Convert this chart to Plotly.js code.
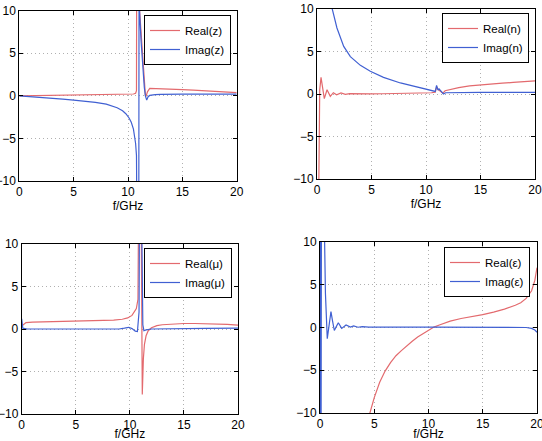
<!DOCTYPE html>
<html>
<head>
<meta charset="utf-8">
<script src="https://cdn.plot.ly/plotly-3.0.1.min.js"></script>
<style>html,body{margin:0;padding:0;background:#fff;}#chart{width:542px;height:441px;}</style>
</head>
<body>
<div id="chart"></div>
<script>
// ---- Data ----
// Panel 1: impedance z
const zReF = [0, 3, 6, 9, 10, 10.5, 10.7, 10.78, 10.82, 11.0, 11.04, 11.2, 11.35, 11.5, 11.6, 11.66, 11.8, 12.0, 13, 14, 15, 16, 17, 18, 19, 20];
const zRe  = [0, 0.05, 0.1, 0.15, 0.18, 0.22, 0.3, 0.6, 30, 30, 10.5, 7.5, 4.5, 1.5, 0.1, -0.05, 0.5, 0.88, 0.86, 0.8, 0.74, 0.67, 0.6, 0.52, 0.45, 0.37];
const zImF = [0, 1, 2, 3, 4, 5, 6, 7, 8, 8.5, 9, 9.5, 9.8, 10.1, 10.3, 10.5, 10.6, 10.7, 10.78, 10.85, 10.9, 10.98, 11.0, 11.03, 11.06, 11.2, 11.35, 11.5, 11.6, 11.72, 11.85, 12.0, 12.5, 13, 15, 17, 20];
const zIm  = [0, -0.08, -0.18, -0.28, -0.38, -0.5, -0.62, -0.76, -0.98, -1.15, -1.4, -1.75, -2.1, -2.6, -3.1, -3.9, -4.6, -5.6, -7, -9.5, -30, -30, 30, 30, 10, 6.5, 3.5, 1.0, 0, -0.5, -0.1, 0.05, 0.15, 0.18, 0.2, 0.2, 0.2];

// Panel 2: refractive index n
const nReF = [0.02, 0.15, 0.25, 0.37, 0.5, 0.67, 0.92, 1.22, 1.5, 1.8, 2.2, 2.6, 3, 4, 5, 6, 7, 8, 9, 10, 10.5, 10.85, 10.98, 11.15, 11.55, 11.75, 12.5, 13, 14, 15, 16, 17, 18, 19, 20];
const nRe  = [-30, -8, 0.5, 1.96, 0.9, -0.55, 0.5, -0.27, 0.15, -0.1, 0.12, -0.05, 0.05, 0.0, 0.02, 0.03, 0.05, 0.07, 0.1, 0.13, 0.15, 0.22, 0.85, 0.5, 0.1, 0.38, 0.6, 0.75, 0.95, 1.08, 1.18, 1.27, 1.36, 1.45, 1.55];
const nImF = [1.2, 1.38, 1.83, 2.45, 3.06, 3.98, 4.89, 6.1, 7.65, 9.17, 10.1, 10.85, 10.97, 11.1, 11.2, 11.6, 11.8, 13, 15, 17, 20];
const nIm  = [12, 10.1, 7.77, 5.6, 4.4, 3.37, 2.67, 1.96, 1.3, 0.82, 0.5, 0.3, 1.0, 0.45, 0.6, 0.0, 0.15, 0.2, 0.2, 0.2, 0.2];

// Panel 3: permeability mu
const muReF = [0, 0.4, 1, 3, 5, 7, 8.5, 9.3, 9.8, 10.2, 10.6, 10.75, 10.9, 10.97, 11.15, 11.25, 11.35, 11.5, 11.7, 12, 12.5, 13, 14, 15, 16, 17, 18, 19, 20];
const muRe  = [0.35, 0.75, 0.8, 0.85, 0.9, 0.95, 1.05, 1.15, 1.3, 1.6, 2.4, 3.5, 30, 30, -7.7, -3.5, -1.8, -0.8, -0.2, 0.15, 0.4, 0.5, 0.6, 0.65, 0.65, 0.63, 0.6, 0.55, 0.45];
const muImF = [0, 0.1, 0.5, 3, 6, 9, 9.5, 9.9, 10.2, 10.5, 10.7, 10.85, 10.95, 11.08, 11.2, 11.3, 11.5, 12, 14, 17, 20];
const muIm  = [1.2, 0.1, 0.0, -0.02, -0.02, 0.0, 0.1, 0.2, 0.05, -0.25, -0.3, 2, 30, 30, 0.5, -0.2, -0.1, 0.0, 0.05, 0.08, 0.1];

// Panel 4: permittivity epsilon
const epReF = [4.0, 4.3, 4.6, 5, 5.5, 6, 6.5, 7, 7.5, 8, 8.5, 9, 9.5, 10, 10.5, 11, 12, 13, 14, 15, 16, 17, 18, 18.5, 19, 19.5, 19.8, 20];
const epRe  = [-15, -12, -10, -8.2, -6.4, -5.1, -4.1, -3.3, -2.7, -2.1, -1.6, -1.1, -0.7, -0.3, 0.05, 0.3, 0.75, 1.05, 1.25, 1.5, 1.8, 2.15, 2.6, 2.9, 3.4, 4.3, 5.5, 7.0];
const epImF = [0, 0.08, 0.15, 0.4, 0.5, 0.67, 0.85, 1.01, 1.15, 1.32, 1.5, 1.69, 2.0, 2.4, 2.8, 3.1, 3.5, 3.9, 4.5, 5, 6, 10, 15, 18, 19, 19.5, 19.8, 20];
const epIm  = [30, -30, 30, 12, 4, -1.3, 0.3, 1.85, 0.8, -0.35, 0.1, 0.55, -0.1, 0.3, 0.05, 0.18, 0.03, 0.1, 0.04, 0.03, 0.04, 0.04, 0.04, 0.03, 0.0, -0.1, -0.3, -0.55];

const legendNames = [['Real(z)', 'Imag(z)'], ['Real(n)', 'Imag(n)'], ['Real(\u03bc)', 'Imag(\u03bc)'], ['Real(\u03b5)', 'Imag(\u03b5)']];

// ---- Styling ----
const RED = '#e36a6e', BLUE = '#4060d2';
const panels = [
  [zReF, zRe, zImF, zIm],
  [nReF, nRe, nImF, nIm],
  [muReF, muRe, muImF, muIm],
  [epReF, epRe, epImF, epIm]
];
const traces = [];
panels.forEach((p, i) => {
  const ax = i === 0 ? '' : String(i + 1);
  const lg = i === 0 ? 'legend' : 'legend' + (i + 1);
  traces.push({x: p[0], y: p[1], type: 'scatter', mode: 'lines', name: legendNames[i][0],
    line: {color: RED, width: 1.2}, xaxis: 'x' + ax, yaxis: 'y' + ax, legend: lg});
  traces.push({x: p[2], y: p[3], type: 'scatter', mode: 'lines', name: legendNames[i][1],
    line: {color: BLUE, width: 1.2}, xaxis: 'x' + ax, yaxis: 'y' + ax, legend: lg});
});

const W = 542, H = 441;
// plot boxes in pixels: [left, right, top, bottom]
const boxes = [[19.3, 236.7, 10.7, 181], [317, 535, 9, 179], [21.7, 238, 244, 414], [320, 537, 242, 413]];
const legPos = [[231, 15], [529, 13], [232, 248], [530, 247]];

const layout = {
  width: W, height: H,
  margin: {l: 0, r: 0, t: 0, b: 0, autoexpand: false},
  paper_bgcolor: '#fff', plot_bgcolor: '#fff',
  font: {family: 'Liberation Sans, Arial, sans-serif', size: 12, color: '#000'},
  showlegend: true
};
boxes.forEach((b, i) => {
  const s = i === 0 ? '' : String(i + 1);
  const common = {showline: true, linecolor: '#000', linewidth: 1, mirror: 'ticks', ticks: 'inside', ticklen: 4,
    tickcolor: '#000', showgrid: true, gridcolor: '#b0b0b0', griddash: '1px,3px', gridwidth: 1, zeroline: false,
    tickfont: {size: 12}, fixedrange: true, automargin: false, ticklabeloverflow: 'allow'};
  layout['xaxis' + s] = Object.assign({}, common, {
    domain: [b[0] / W, b[1] / W], anchor: 'y' + s, range: [0, 20], tickvals: [0, 5, 10, 15, 20],
    title: {text: 'f/GHz', font: {size: 12}, standoff: 2}
  });
  layout['yaxis' + s] = Object.assign({}, common, {
    domain: [1 - b[3] / H, 1 - b[2] / H], anchor: 'x' + s, range: [-10, 10], tickvals: [-10, -5, 0, 5, 10]
  });
  const lk = i === 0 ? 'legend' : 'legend' + (i + 1);
  layout[lk] = {
    xref: 'paper', yref: 'paper', x: legPos[i][0] / W, y: 1 - legPos[i][1] / H,
    xanchor: 'right', yanchor: 'top', bgcolor: '#fff', bordercolor: '#000', borderwidth: 1,
    font: {size: 11.5}, itemwidth: 30, tracegroupgap: 0
  };
});

Plotly.newPlot('chart', traces, layout, {displayModeBar: false, staticPlot: true});
</script>
</body>
</html>
